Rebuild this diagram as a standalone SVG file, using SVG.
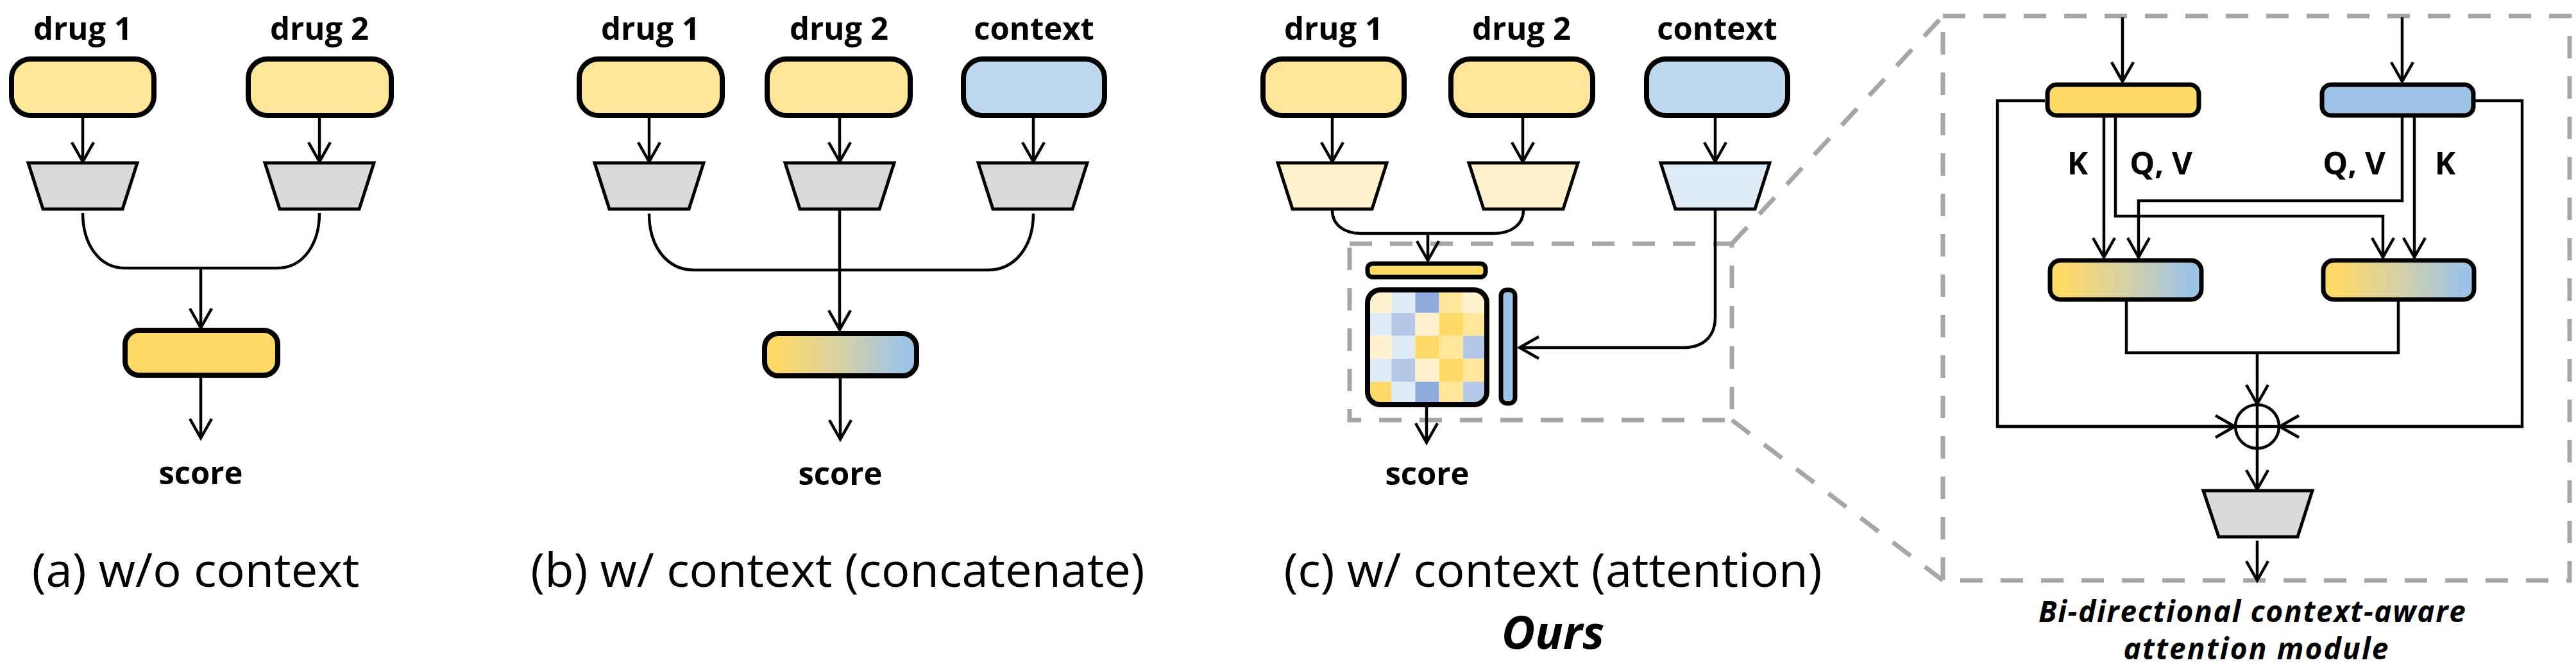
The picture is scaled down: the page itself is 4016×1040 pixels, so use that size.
<svg xmlns="http://www.w3.org/2000/svg" width="4016" height="1040" viewBox="0 0 4016 1040">
<defs>
<style>
.lbl{font-family:"Open Sans","Liberation Sans",sans-serif;font-weight:700;font-size:49px;fill:#000;text-anchor:middle}
.cap{font-family:"Open Sans","Liberation Sans",sans-serif;font-weight:400;font-size:74px;fill:#000;text-anchor:middle}
.capi{font-family:"Open Sans","Liberation Sans",sans-serif;font-weight:700;font-style:italic;fill:#000;text-anchor:middle}
.box{stroke:#000;stroke-width:8}
.bar{stroke:#000;stroke-width:7}
.trap{stroke:#000;stroke-width:5}
.ln{fill:none;stroke:#000;stroke-width:4.5}
.arr{fill:none;stroke:#000;stroke-width:4.5;marker-end:url(#arr)}
.dash{fill:none;stroke:#A6A6A6;stroke-width:7;stroke-dasharray:35 28}
</style>
<marker id="arr" markerUnits="userSpaceOnUse" markerWidth="40" markerHeight="40" refX="0" refY="0" orient="auto" overflow="visible">
<path d="M-30,-17 L0,0 L-30,17" fill="none" stroke="#000" stroke-width="4.5"/>
</marker>
<linearGradient id="grad" x1="0" y1="0" x2="1" y2="0">
<stop offset="0.08" stop-color="#FFD966"/>
<stop offset="0.5" stop-color="#D6D1A6"/>
<stop offset="0.92" stop-color="#9DC3E6"/>
</linearGradient>
<clipPath id="mclip"><rect x="2132" y="452" width="186" height="179" rx="20"/></clipPath>
</defs>
<rect width="4016" height="1040" fill="#fff"/>

<!-- Panel (a) -->
<g id="a-drug1"><text class="lbl" x="129" y="62">drug 1</text><rect class="box" x="18" y="92" width="222" height="88" rx="30" fill="#FFE699"/></g>
<g id="a-drug2"><text class="lbl" x="498" y="62">drug 2</text><rect class="box" x="387" y="92" width="223" height="88" rx="30" fill="#FFE699"/></g>
<g id="a-enc1"><polygon class="trap" points="44,254 214,254 191,326 67,326" fill="#D9D9D9"/></g>
<g id="a-enc2"><polygon class="trap" points="413,254 583,254 560,326 436,326" fill="#D9D9D9"/></g>
<g id="a-result"><rect class="box" x="195" y="515" width="238" height="70" rx="22" fill="#FFD966"/></g>
<g id="a-score"><text class="lbl" x="313" y="755">score</text></g>
<g id="a-caption"><text class="cap" x="305" y="915">(a) w/o context</text></g>

<!-- Panel (b) -->
<g id="b-drug1"><text class="lbl" x="1014" y="62">drug 1</text><rect class="box" x="903" y="92" width="223" height="88" rx="30" fill="#FFE699"/></g>
<g id="b-drug2"><text class="lbl" x="1308" y="62">drug 2</text><rect class="box" x="1196" y="92" width="223" height="88" rx="30" fill="#FFE699"/></g>
<g id="b-context"><text class="lbl" x="1612" y="62">context</text><rect class="box" x="1502" y="92" width="220" height="88" rx="30" fill="#BDD7EE"/></g>
<g id="b-enc1"><polygon class="trap" points="927,254 1097,254 1074,326 950,326" fill="#D9D9D9"/></g>
<g id="b-enc2"><polygon class="trap" points="1224,254 1394,254 1371,326 1247,326" fill="#D9D9D9"/></g>
<g id="b-enc3"><polygon class="trap" points="1525,254 1695,254 1672,326 1548,326" fill="#D9D9D9"/></g>
<g id="b-result"><rect class="box" x="1192" y="520" width="237" height="66" rx="22" fill="url(#grad)"/></g>
<g id="b-score"><text class="lbl" x="1310" y="756">score</text></g>
<g id="b-caption"><text class="cap" x="1306" y="915">(b) w/ context (concatenate)</text></g>

<!-- Panel (c) -->
<g id="c-drug1"><text class="lbl" x="2079" y="62">drug 1</text><rect class="box" x="1969" y="92" width="220" height="88" rx="30" fill="#FFE699"/></g>
<g id="c-drug2"><text class="lbl" x="2372" y="62">drug 2</text><rect class="box" x="2262" y="92" width="221" height="88" rx="30" fill="#FFE699"/></g>
<g id="c-context"><text class="lbl" x="2677" y="62">context</text><rect class="box" x="2567" y="92" width="220" height="88" rx="30" fill="#BDD7EE"/></g>
<g id="c-enc1"><polygon class="trap" points="1992,254 2162,254 2139,326 2015,326" fill="#FFF2CC"/></g>
<g id="c-enc2"><polygon class="trap" points="2290,254 2460,254 2437,326 2313,326" fill="#FFF2CC"/></g>
<g id="c-enc3"><polygon class="trap" points="2589,254 2759,254 2736,326 2612,326" fill="#DEEBF7"/></g>
<g id="c-drugvec"><rect class="bar" x="2132" y="411" width="184" height="21" rx="8" fill="#FFD966"/></g>
<g id="c-matrix">
<g clip-path="url(#mclip)">
<rect x="2132" y="452" width="37.2" height="35.8" fill="#FFF2CC"/><rect x="2169.2" y="452" width="37.2" height="35.8" fill="#DEEBF7"/><rect x="2206.4" y="452" width="37.2" height="35.8" fill="#8FAADC"/><rect x="2243.6" y="452" width="37.2" height="35.8" fill="#FFE699"/><rect x="2280.8" y="452" width="37.2" height="35.8" fill="#FFF2CC"/>
<rect x="2132" y="487.8" width="37.2" height="35.8" fill="#DEEBF7"/><rect x="2169.2" y="487.8" width="37.2" height="35.8" fill="#B4C7E7"/><rect x="2206.4" y="487.8" width="37.2" height="35.8" fill="#FFF2CC"/><rect x="2243.6" y="487.8" width="37.2" height="35.8" fill="#FFD966"/><rect x="2280.8" y="487.8" width="37.2" height="35.8" fill="#FFE699"/>
<rect x="2132" y="523.6" width="37.2" height="35.8" fill="#FFF2CC"/><rect x="2169.2" y="523.6" width="37.2" height="35.8" fill="#DEEBF7"/><rect x="2206.4" y="523.6" width="37.2" height="35.8" fill="#FFD966"/><rect x="2243.6" y="523.6" width="37.2" height="35.8" fill="#FFE699"/><rect x="2280.8" y="523.6" width="37.2" height="35.8" fill="#B4C7E7"/>
<rect x="2132" y="559.4" width="37.2" height="35.8" fill="#DEEBF7"/><rect x="2169.2" y="559.4" width="37.2" height="35.8" fill="#B4C7E7"/><rect x="2206.4" y="559.4" width="37.2" height="35.8" fill="#FFF2CC"/><rect x="2243.6" y="559.4" width="37.2" height="35.8" fill="#FFD966"/><rect x="2280.8" y="559.4" width="37.2" height="35.8" fill="#FFE699"/>
<rect x="2132" y="595.2" width="37.2" height="35.8" fill="#FFD966"/><rect x="2169.2" y="595.2" width="37.2" height="35.8" fill="#DEEBF7"/><rect x="2206.4" y="595.2" width="37.2" height="35.8" fill="#8FAADC"/><rect x="2243.6" y="595.2" width="37.2" height="35.8" fill="#FFE699"/><rect x="2280.8" y="595.2" width="37.2" height="35.8" fill="#B4C7E7"/>
</g>
<rect class="box" x="2132" y="452" width="186" height="179" rx="20" fill="none"/>
</g>
<g id="c-ctxvec"><rect class="bar" x="2340" y="452" width="22" height="177" rx="9" fill="#9DC3E6"/></g>
<g id="c-score"><text class="lbl" x="2225" y="756">score</text></g>
<g id="c-caption"><text class="cap" x="2421" y="915">(c) w/ context (attention)</text><text class="capi" x="2421" y="1012" font-size="72">Ours</text></g>

<!-- zoom frame -->
<g id="zoom-frame">
<rect class="dash" x="2104" y="380" width="596" height="275"/>
<line class="dash" x1="2700" y1="380" x2="3029" y2="25"/>
<line class="dash" x1="2700" y1="655" x2="3029" y2="905"/>
<rect class="dash" x="3029" y="25" width="977" height="880"/>
</g>

<!-- Panel (d) module -->
<g id="d-drugvec"><rect class="bar" x="3192" y="132" width="236" height="48" rx="14" fill="#FFD966"/></g>
<g id="d-ctxvec"><rect class="bar" x="3620" y="132" width="236" height="48" rx="14" fill="#9DC3E6"/></g>
<g id="d-attn1"><rect class="bar" x="3196" y="406" width="236" height="61" rx="16" fill="url(#grad)"/></g>
<g id="d-attn2"><rect class="bar" x="3622" y="406" width="235" height="61" rx="16" fill="url(#grad)"/></g>
<g id="d-sum"><circle cx="3519" cy="665" r="34" fill="#fff" stroke="#000" stroke-width="4.5"/><path class="ln" d="M3519,631 V699 M3485,665 H3553"/></g>
<g id="d-out"><polygon class="trap" points="3435,765 3605,765 3582,837 3459,837" fill="#D9D9D9"/></g>
<g id="d-labels">
<text class="lbl" x="3239" y="272">K</text>
<text class="lbl" x="3369" y="272">Q, V</text>
<text class="lbl" x="3670" y="272">Q, V</text>
<text class="lbl" x="3812" y="272">K</text>
</g>
<g id="d-caption"><text class="capi" x="3511" y="970" font-size="46" textLength="666">Bi-directional context-aware</text><text class="capi" x="3517" y="1028" font-size="46" textLength="413">attention module</text></g>

<!-- connectors -->
<g id="connectors">
<path class="arr" d="M129,180 V252"/>
<path class="arr" d="M498,180 V252"/>
<path class="ln" d="M129,332 C129,380 154,418 195,418 H432 C473,418 498,380 498,332"/>
<path class="arr" d="M313,418 V511"/>
<path class="arr" d="M313,589 V683"/>

<path class="arr" d="M1012,180 V252"/>
<path class="arr" d="M1309,180 V252"/>
<path class="arr" d="M1611,180 V252"/>
<path class="ln" d="M1012,333 C1012,385 1040,421 1082,421 H1540 C1582,421 1611,385 1611,333"/>
<path class="arr" d="M1309,327 V514"/>
<path class="arr" d="M1310,590 V685"/>

<path class="arr" d="M2077,180 V252"/>
<path class="arr" d="M2374,180 V252"/>
<path class="arr" d="M2674,180 V252"/>
<path class="ln" d="M2077,328 C2077,350 2095,364 2122,364 H2329 C2356,364 2375,350 2375,328"/>
<path class="arr" d="M2226,364 V406"/>
<path class="arr" d="M2674,328 V495 C2674,525 2655,542 2624,542 H2369"/>
<path class="arr" d="M2224,635 V690"/>

<path class="arr" d="M3309,27 V127"/>
<path class="arr" d="M3745,27 V127"/>
<path class="ln" d="M3188,157 H3114 V665 H3482"/>
<path class="arr" d="M3114,665 H3484"/>
<path class="ln" d="M3859,157 H3932 V665 H3556"/>
<path class="arr" d="M3932,665 H3554"/>
<path class="arr" d="M3280,183 V401"/>
<path class="arr" d="M3298,183 V337 H3715 V401"/>
<path class="arr" d="M3745,183 V313 H3334 V401"/>
<path class="arr" d="M3764,183 V401"/>
<path class="ln" d="M3315,470 V550 H3739 V470"/>
<path class="arr" d="M3519,550 V630"/>
<path class="arr" d="M3519,699 V763"/>
<path class="arr" d="M3519,843 V905"/>
</g>
</svg>
